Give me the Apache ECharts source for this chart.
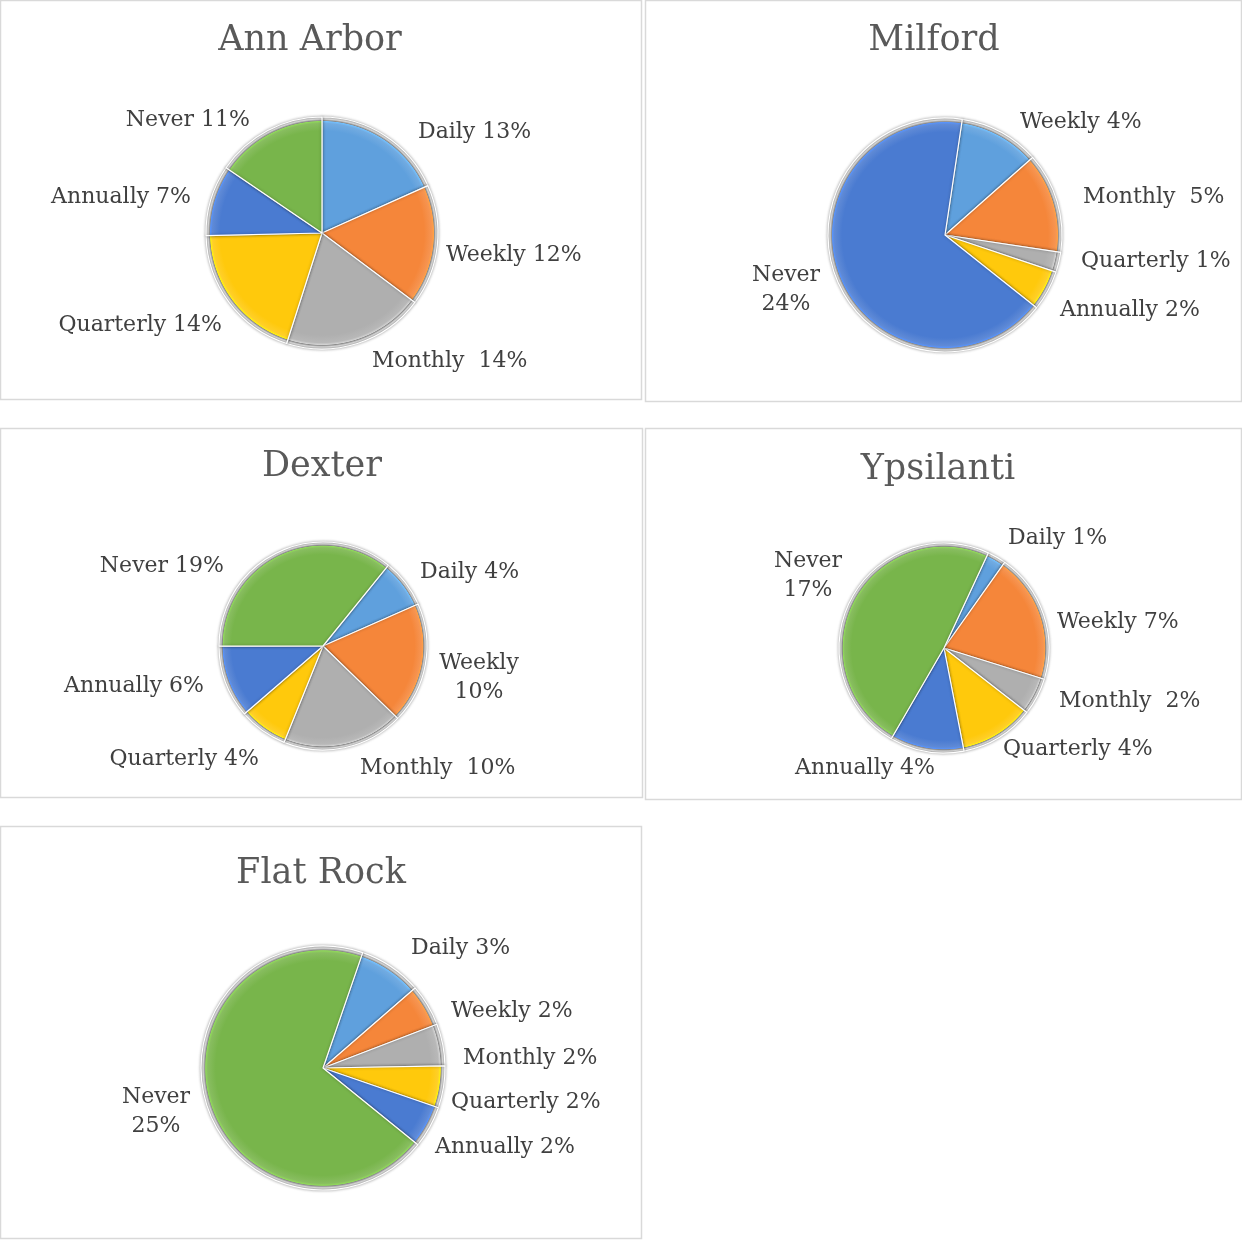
<!DOCTYPE html>
<html>
<head>
<meta charset="utf-8">
<script src="https://cdn.jsdelivr.net/npm/echarts@6/dist/echarts.min.js"></script>
<style>
  html, body { margin: 0; padding: 0; background: #fff; }
  #chart { width: 1242px; height: 1240px; }
</style>
</head>
<body>
<div id="chart"></div>
<script>
// Frequency categories
const categories = ['Daily', 'Weekly', 'Monthly', 'Quarterly', 'Annually', 'Never'];
const milfordCategories = ['Weekly', 'Monthly', 'Quarterly', 'Annually', 'Never'];

// Percent values per city (as printed on the labels)
const annArbor = [13, 12, 14, 14, 7, 11];
const milford = [4, 5, 1, 2, 24];
const dexter = [4, 10, 10, 4, 6, 19];
const ypsilanti = [1, 7, 2, 4, 4, 17];
const flatRock = [3, 2, 2, 2, 2, 25];

const palette = ['#5FA0DD', '#F5863A', '#AFAFAF', '#FFC90C', '#4A7BD1', '#78B54B'];
const labelFont = 'DejaVu Serif';

const chartDom = document.getElementById('chart');
const myChart = echarts.init(chartDom, null, { renderer: 'canvas' });

// Panel layout: box, title, pie placement, first-slice angle and hand placed label anchors
// label anchor: [x, y, align]
const cities = [
  { name: 'Ann Arbor', cats: categories, vals: annArbor, box: [0, 0, 642, 400], titleX: 310, titleY: 23,
    center: [322, 233], r: 116, start: 90, wrap: [],
    labels: [[418, 132, 'left'], [446, 255, 'left'], [372, 361, 'left'], [222, 325, 'right'], [191, 197, 'right'], [250, 120, 'right']] },
  { name: 'Milford', cats: milfordCategories, vals: milford, box: [645, 0, 597, 402], titleX: 934, titleY: 23,
    center: [945, 235], r: 117, start: 81.5, wrap: ['Never'],
    labels: [[1020, 122, 'left'], [1083, 197, 'left'], [1081, 261, 'left'], [1060, 310, 'left'], [786, 290, 'center']] },
  { name: 'Dexter', cats: categories, vals: dexter, box: [0, 428, 643, 370], titleX: 322, titleY: 449,
    center: [323, 646], r: 104, start: 51, wrap: ['Weekly'],
    labels: [[420, 572, 'left'], [479, 678, 'center'], [360, 768, 'left'], [259, 759, 'right'], [204, 686, 'right'], [224, 566, 'right']] },
  { name: 'Ypsilanti', cats: categories, vals: ypsilanti, box: [645, 428, 597, 372], titleX: 938, titleY: 452,
    center: [944, 648], r: 105, start: 65, wrap: ['Never'],
    labels: [[1008, 538, 'left'], [1057, 622, 'left'], [1059, 701, 'left'], [1003, 749, 'left'], [935, 768, 'right'], [808, 576, 'center']] },
  { name: 'Flat Rock', cats: categories, vals: flatRock, box: [0, 826, 642, 413], titleX: 321, titleY: 856,
    center: [323, 1068], r: 122, start: 71, wrap: ['Never'],
    labels: [[411, 948, 'left'], [451, 1011, 'left'], [463, 1058, 'left'], [451, 1102, 'left'], [435, 1147, 'left'], [156, 1112, 'center']] },
];

const labelFormatter = (city) => (p) => {
  if (city.wrap.includes(p.name)) {
    return '{c|' + p.name + '}\n{c|' + p.value + '%}';
  }
  const sep = (p.name === 'Monthly' && city.name !== 'Flat Rock') ? '  ' : ' ';
  return p.name + sep + p.value + '%';
};

// bevel-ish fill: flat base, a shaded band inside the rim, then a silver outer ring
const bevelFill = (c, base) => ({
  type: 'radial',
  x: c.center[0],
  y: c.center[1],
  r: c.r,
  global: true,
  colorStops: [
    { offset: 0, color: base },
    { offset: 0.88, color: base },
    { offset: 0.945, color: echarts.color.lift(base, 0.12) },
    { offset: 0.962, color: echarts.color.lift(base, -0.2) },
    { offset: 0.968, color: '#8c8c8c' },
    { offset: 0.982, color: '#dedede' },
    { offset: 1, color: '#b8b8b8' },
  ],
});

const option = {
  backgroundColor: '#fff',
  animation: false,
  graphic: cities.map((c) => ({
    type: 'rect',
    shape: { x: c.box[0] + 0.5, y: c.box[1] + 0.5, width: c.box[2] - 1, height: c.box[3] - 1 },
    style: { fill: 'none', stroke: '#d9d9d9', lineWidth: 1.5 },
    silent: true,
    z: -1,
  })),
  title: cities.map((c) => ({
    text: c.name,
    left: c.titleX,
    top: c.titleY,
    padding: 0,
    textAlign: 'center',
    textStyle: { fontFamily: labelFont, fontSize: 35, fontWeight: 'normal', color: '#595959' },
  })),
  series: cities.map((c) => ({
    name: c.name,
    type: 'pie',
    center: c.center,
    radius: c.r,
    startAngle: c.start,
    clockwise: true,
    avoidLabelOverlap: false,
    itemStyle: {
      borderColor: '#ffffff',
      borderWidth: 1.2,
      shadowBlur: 3,
      shadowColor: 'rgba(0,0,0,0.35)',
    },
    label: {
      show: true,
      position: 'outside',
      formatter: labelFormatter(c),
      fontFamily: labelFont,
      fontSize: 22,
      color: '#404040',
      lineHeight: 29,
      rich: {
        c: { align: 'center', fontFamily: labelFont, fontSize: 22, color: '#404040', lineHeight: 29 },
      },
    },
    labelLine: { show: false },
    labelLayout: (params) => {
      const a = c.labels[params.dataIndex];
      return { x: a[0], y: a[1], align: a[2], verticalAlign: 'middle' };
    },
    emphasis: { disabled: true },
    data: c.cats.map((name, i) => ({
      name: name,
      value: c.vals[i],
      itemStyle: { color: bevelFill(c, palette[i]) },
    })),
  })),
};

myChart.setOption(option);
</script>
</body>
</html>
